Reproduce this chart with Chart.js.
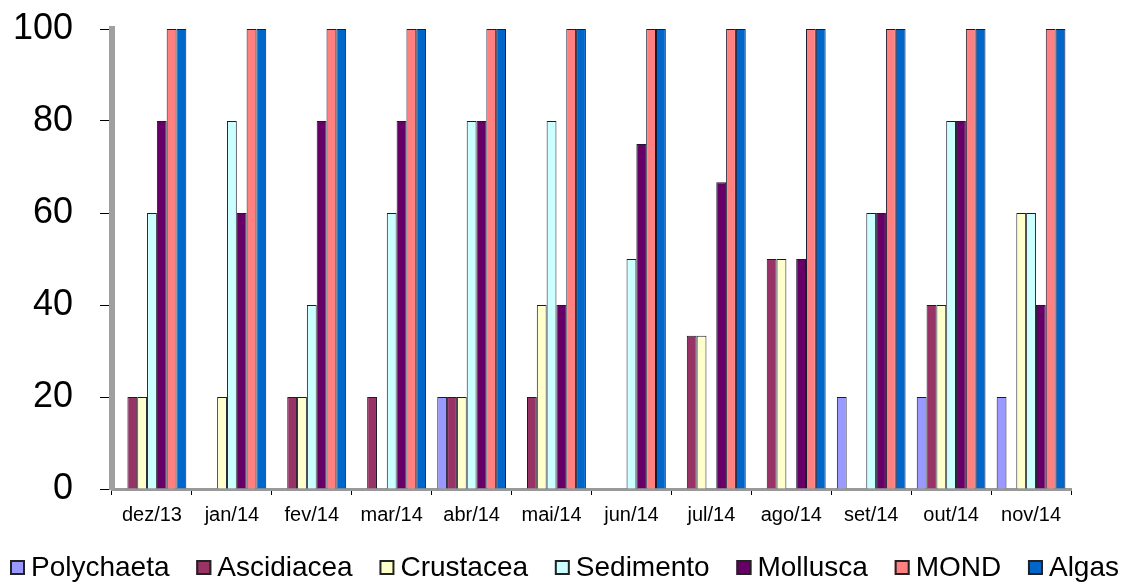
<!DOCTYPE html>
<html>
<head>
<meta charset="utf-8">
<script src="https://cdn.jsdelivr.net/npm/chart.js@4"></script>
<style>
  html, body { margin: 0; padding: 0; background: #fff; }
  #wrap { width: 1131px; height: 587px; }
</style>
</head>
<body>
<div id="wrap"><canvas id="c"></canvas></div>
<script>
// mois
const months = ['dez/13', 'jan/14', 'fev/14', 'mar/14', 'abr/14', 'mai/14', 'jun/14', 'jul/14', 'ago/14', 'set/14', 'out/14', 'nov/14'];

// valeurs par groupe (%)
const polychaeta = [0, 0, 0, 0, 20, 0, 0, 0, 0, 20, 20, 20];
const ascidiacea = [20, 0, 20, 20, 20, 20, 0, 33.3, 50, 0, 40, 0];
const crustacea  = [20, 20, 20, 0, 20, 40, 0, 33.3, 50, 0, 40, 60];
const sedimento  = [60, 80, 40, 60, 80, 80, 50, 0, 0, 60, 80, 60];
const mollusca   = [80, 60, 80, 80, 80, 40, 75, 66.7, 50, 60, 80, 40];
const mond       = [100, 100, 100, 100, 100, 100, 100, 100, 100, 100, 100, 100];
const algas      = [100, 100, 100, 100, 100, 100, 100, 100, 100, 100, 100, 100];

const yTicks = [0, 20, 40, 60, 80, 100];

const FONT = "'Liberation Sans', Arial, sans-serif";

const series = [
    { label: 'Polychaeta', data: polychaeta, color: '#9999ff' },
    { label: 'Ascidiacea', data: ascidiacea, color: '#993366' },
    { label: 'Crustacea',  data: crustacea,  color: '#ffffcc' },
    { label: 'Sedimento',  data: sedimento,  color: '#ccffff' },
    { label: 'Mollusca',   data: mollusca,   color: '#660066' },
    { label: 'MOND',       data: mond,       color: '#ff8080' },
    { label: 'Algas',      data: algas,      color: '#0066cc' }
];

const datasets = series.map(s => ({
    label: s.label,
    data: s.data,
    backgroundColor: s.color,
    borderColor: '#1a1a2e',
    borderWidth: 1,
    borderSkipped: 'bottom',
    categoryPercentage: 0.86,
    barPercentage: 1.0
}));

// Légende dessinée à la main : une seule ligne sur toute la largeur
const bottomLegend = {
    id: 'bottomLegend',
    afterDraw(chart) {
        const ctx = chart.ctx;
        const items = chart.data.datasets;
        ctx.save();
        ctx.font = '28px ' + FONT;
        ctx.textBaseline = 'middle';
        const box = 15, gap = 6;
        const left = 10, right = 1119;
        const widths = items.map(d => ctx.measureText(d.label).width);
        const used = widths.reduce((a, w) => a + box + gap + w, 0);
        const spacing = (right - left - used) / (items.length - 1);
        const y = 568;
        let x = left;
        items.forEach((d, i) => {
            ctx.fillStyle = d.backgroundColor;
            ctx.fillRect(x, y - 8, box, box);
            ctx.strokeStyle = '#222';
            ctx.lineWidth = 2;
            ctx.strokeRect(x + 1, y - 7, box - 2, box - 2);
            ctx.fillStyle = '#000';
            ctx.fillText(d.label, x + box + gap, y);
            x += box + gap + widths[i] + spacing;
        });
        ctx.restore();
    }
};

const config = {
    type: 'bar',
    data: { labels: months, datasets: datasets },
    options: {
        responsive: true,
        maintainAspectRatio: false,
        animation: false,
        layout: {
            autoPadding: false,
            padding: { top: 29, right: 60, bottom: 52, left: 12 }
        },
        plugins: {
            title: { display: false },
            tooltip: { enabled: false },
            legend: { display: false }
        },
        scales: {
            x: {
                grid: {
                    display: true,
                    drawOnChartArea: false,
                    drawTicks: true,
                    tickLength: 6,
                    color: '#000',
                    offset: true
                },
                border: { display: true, color: '#999', width: 3 },
                ticks: {
                    color: '#000',
                    padding: 8,
                    maxRotation: 0,
                    font: { family: FONT, size: 20 }
                }
            },
            y: {
                min: 0,
                max: 100,
                afterBuildTicks: axis => { axis.ticks = yTicks.map(v => ({ value: v })); },
                afterFit: axis => {
                    axis.width = 100;
                    axis.paddingTop = 0;
                    axis.paddingBottom = 0;
                },
                grid: {
                    display: true,
                    drawOnChartArea: false,
                    drawTicks: true,
                    tickLength: 12,
                    color: '#000'
                },
                border: { display: true, color: '#a0a0a0', width: 6 },
                ticks: {
                    color: '#000',
                    padding: 27,
                    font: { family: FONT, size: 36 }
                }
            }
        }
    },
    plugins: [bottomLegend]
};

new Chart(document.getElementById('c'), config);
</script>
</body>
</html>
